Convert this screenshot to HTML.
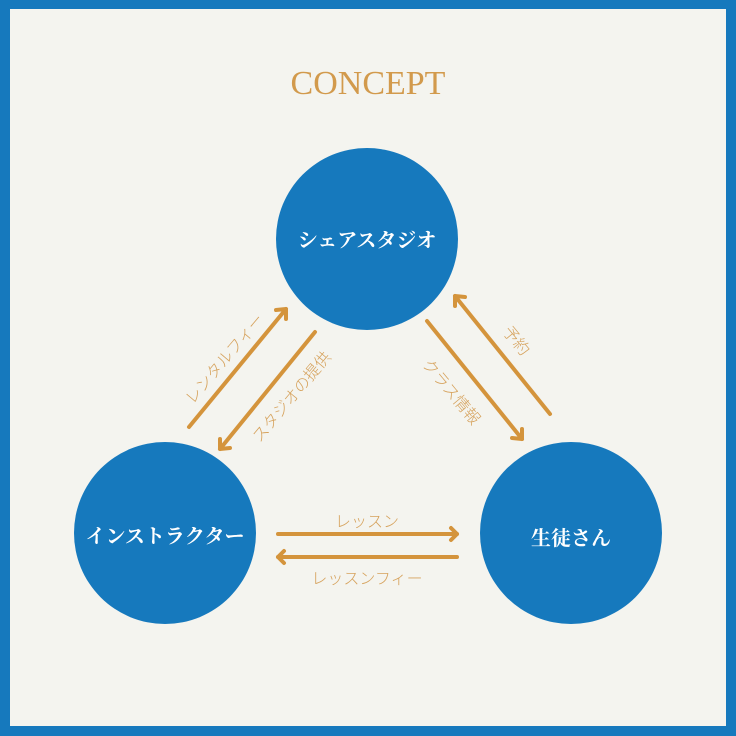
<!DOCTYPE html>
<html><head><meta charset="utf-8"><style>
html,body{margin:0;padding:0}
body{width:736px;height:736px;background:#1679bd;position:relative;overflow:hidden}
</style></head><body>
<svg width="736" height="736" viewBox="0 0 736 736" style="position:absolute;left:0;top:0">
<rect x="10" y="9" width="716" height="717" fill="#f4f4ef"/>
<text x="368" y="94" text-anchor="middle" font-family="Liberation Serif, serif" font-size="34" fill="#d29a4c">CONCEPT</text>
<circle cx="367" cy="239" r="91" fill="#1679bd"/>
<circle cx="165" cy="533" r="91" fill="#1679bd"/>
<circle cx="571" cy="533" r="91" fill="#1679bd"/>
<g font-family="Liberation Serif, 'Noto Serif CJK JP', serif" font-weight="bold" font-size="20" fill="#fff" text-anchor="middle">
<text x="367" y="247">シェアスタジオ</text>
<text x="165" y="543">インストラクター</text>
<text x="571" y="545">生徒さん</text>
</g>
<g stroke="#d4943c" stroke-width="4" fill="none" stroke-linecap="round" stroke-linejoin="round">
<line x1="189" y1="427" x2="286" y2="309"/><polyline points="276,310 286,309 286,319"/>
<line x1="315" y1="332" x2="220" y2="449"/><polyline points="220,439 220,449 230,448"/>
<line x1="427" y1="321" x2="522" y2="439"/><polyline points="512,438 522,439 522,429"/>
<line x1="550" y1="414" x2="455" y2="296"/><polyline points="455,306 455,296 465,297"/>
<line x1="278" y1="534" x2="457" y2="534"/><polyline points="451,528 457,534 451,540"/>
<line x1="457" y1="557" x2="278" y2="557"/><polyline points="284,551 278,557 284,563"/>
</g>
<g font-family="Liberation Sans, 'Noto Sans CJK JP', sans-serif" font-size="16" fill="#d6a25c" text-anchor="middle" font-weight="300">
<text transform="translate(225,359) rotate(-50)" x="0" y="5">レンタルフィー</text>
<text transform="translate(292,397) rotate(-50)" x="0" y="5">スタジオの提供</text>
<text transform="translate(451,392) rotate(50)" x="0" y="5">クラス情報</text>
<text transform="translate(516,341) rotate(50)" x="0" y="5">予約</text>
<text x="367" y="527">レッスン</text>
<text x="367" y="584">レッスンフィー</text>
</g>
</svg>
</body></html>
